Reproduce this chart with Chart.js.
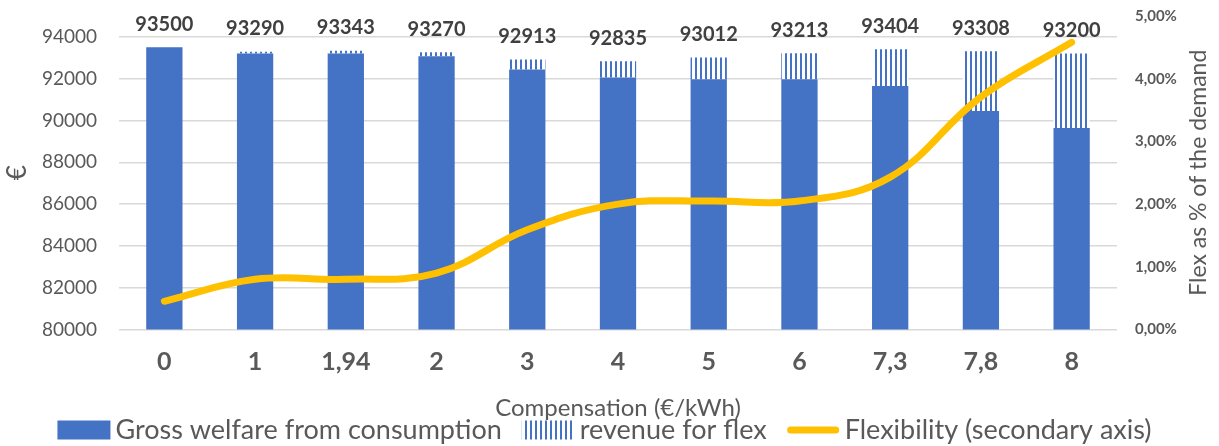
<!DOCTYPE html>
<html>
<head>
<meta charset="utf-8">
<script src="https://cdn.jsdelivr.net/npm/chart.js@4.4.1/dist/chart.umd.min.js"></script>
<style>
  html, body { margin: 0; padding: 0; background: #ffffff; }
  #wrap { width: 1219px; height: 446px; position: relative; }
</style>
</head>
<body>
<div id="wrap"><canvas id="welfareChart"></canvas></div>
<script>
// Compensation levels (€/kWh) shown on the category axis
const categories = ['0', '1', '1,94', '2', '3', '4', '5', '6', '7,3', '7,8', '8'];
// Total welfare printed above each column (€)
const totalWelfare = [93500, 93290, 93343, 93270, 92913, 92835, 93012, 93213, 93404, 93308, 93200];
// Gross welfare from consumption (€), the solid part of each column
const grossWelfare = [93500, 93210, 93200, 93075, 92437, 92054, 91972, 91972, 91651, 90452, 89637];
// Flexibility as % of the demand (secondary axis)
const flexShare = [0.45, 0.80, 0.80, 0.90, 1.59, 2.00, 2.05, 2.05, 2.43, 3.71, 4.58];
// Axis tick values
const leftTicks = [80000, 82000, 84000, 86000, 88000, 90000, 92000, 94000];
const rightTicks = [0, 1, 2, 3, 4, 5];

// Revenue for flex is the striped top part: total minus gross welfare
const revenueForFlex = totalWelfare.map((t, i) => t - grossWelfare[i]);

const BLUE = '#4472C4';
const GOLD = '#FFC000';
const GRID = '#D9D9D9';
const TEXT = '#595959';
const LABEL = '#404040';
const FONT = 'Lato, "Open Sans", sans-serif';

Chart.defaults.font.family = FONT;
Chart.defaults.color = TEXT;

// Vertical blue stripes on white
function makeStripes() {
  const c = document.createElement('canvas');
  c.width = 5; c.height = 4;
  const g = c.getContext('2d');
  g.fillStyle = '#ffffff';
  g.fillRect(0, 0, 5, 4);
  g.fillStyle = BLUE;
  g.fillRect(0, 0, 2, 4);
  return g.createPattern(c, 'repeat');
}
const stripes = makeStripes();

// Fixed scale sizes; no extra edge padding for the outer tick labels
function fixWidth(w) {
  return scale => {
    scale.width = w;
    scale.paddingTop = 0;
    scale.paddingBottom = 0;
  };
}

// Column totals written above each stacked column
const totalLabels = {
  id: 'totalLabels',
  afterDatasetsDraw(chart) {
    const meta = chart.getDatasetMeta(1);
    const ctx = chart.ctx;
    ctx.save();
    ctx.font = 'bold 20px ' + FONT;
    ctx.fillStyle = LABEL;
    ctx.textAlign = 'center';
    ctx.textBaseline = 'middle';
    meta.data.forEach((bar, i) => {
      ctx.fillText(String(totalWelfare[i]), bar.x, bar.y - 23);
    });
    ctx.restore();
  }
};

// Secondary axis title (reads bottom to top) and the legend row
const extras = {
  id: 'extras',
  afterDraw(chart) {
    const ctx = chart.ctx;
    const area = chart.chartArea;

    ctx.save();
    ctx.fillStyle = TEXT;
    ctx.font = '23px ' + FONT;
    ctx.textAlign = 'center';
    ctx.textBaseline = 'middle';
    ctx.translate(1199, (area.top + area.bottom) / 2);
    ctx.rotate(-Math.PI / 2);
    ctx.fillText('Flex as % of the demand', 0, 0);
    ctx.restore();

    // legend
    const items = [
      { text: 'Gross welfare from consumption', kind: 'solid' },
      { text: 'revenue for flex', kind: 'stripes' },
      { text: 'Flexibility (secondary axis)', kind: 'line' }
    ];
    const symW = 53, symH = 19, gap = 5, spacing = 20;
    ctx.save();
    ctx.font = '27px ' + FONT;
    let total = 0;
    items.forEach((it, i) => {
      it.w = ctx.measureText(it.text).width;
      total += symW + gap + it.w + (i ? spacing : 0);
    });
    let x = (chart.width - total) / 2 - 5;
    const cy = 430;
    items.forEach((it, i) => {
      if (i) x += spacing;
      if (it.kind === 'solid') {
        ctx.fillStyle = BLUE;
        ctx.fillRect(x, cy - symH / 2, symW, symH);
      } else if (it.kind === 'stripes') {
        ctx.fillStyle = stripes;
        ctx.fillRect(x, cy - symH / 2, symW, symH);
      } else {
        ctx.strokeStyle = GOLD;
        ctx.lineWidth = 7;
        ctx.lineCap = 'round';
        ctx.beginPath();
        ctx.moveTo(x + 4, cy);
        ctx.lineTo(x + symW - 4, cy);
        ctx.stroke();
      }
      x += symW + gap;
      ctx.fillStyle = TEXT;
      ctx.textAlign = 'left';
      ctx.textBaseline = 'middle';
      ctx.fillText(it.text, x, cy);
      x += it.w;
    });
    ctx.restore();
  }
};

new Chart(document.getElementById('welfareChart'), {
  type: 'bar',
  data: {
    labels: categories,
    datasets: [
      {
        label: 'Gross welfare from consumption',
        data: grossWelfare,
        backgroundColor: BLUE,
        borderWidth: 0,
        yAxisID: 'y',
        order: 1,
        barPercentage: 0.4,
        categoryPercentage: 1
      },
      {
        label: 'revenue for flex',
        data: revenueForFlex,
        backgroundColor: stripes,
        borderWidth: 0,
        yAxisID: 'y',
        order: 1,
        barPercentage: 0.4,
        categoryPercentage: 1
      },
      {
        type: 'line',
        label: 'Flexibility (secondary axis)',
        data: flexShare,
        yAxisID: 'y1',
        borderColor: GOLD,
        backgroundColor: GOLD,
        borderWidth: 7,
        borderCapStyle: 'round',
        borderJoinStyle: 'round',
        pointRadius: 0,
        tension: 0.4,
        fill: false,
        order: 0
      }
    ]
  },
  options: {
    responsive: true,
    maintainAspectRatio: false,
    animation: false,
    layout: { autoPadding: false, padding: { top: 16, left: 0, right: 0, bottom: 0 } },
    plugins: {
      legend: { display: false },
      tooltip: { enabled: false }
    },
    scales: {
      x: {
        stacked: true,
        grid: { display: false, drawTicks: false },
        border: { display: false },
        ticks: {
          color: TEXT,
          font: { size: 25, weight: 'bold' },
          padding: 17,
          maxRotation: 0,
          autoSkip: false
        },
        title: {
          display: true,
          text: 'Compensation (€/kWh)',
          color: TEXT,
          font: { size: 24 },
          padding: { top: 0, bottom: 23 }
        },
        afterFit(scale) {
          scale.height = 116.5;
          scale.paddingLeft = 0;
          scale.paddingRight = 0;
        }
      },
      y: {
        stacked: true,
        position: 'left',
        min: 80000,
        max: 95000,
        afterBuildTicks(scale) { scale.ticks = leftTicks.map(v => ({ value: v })); },
        ticks: { color: TEXT, font: { size: 19 }, padding: 22, callback: v => String(v) },
        grid: { color: GRID, lineWidth: 1.5, drawTicks: false },
        border: { display: false },
        title: {
          display: true,
          text: '€',
          color: TEXT,
          font: { size: 26 },
          padding: { top: 2, bottom: 0 }
        },
        afterFit: fixWidth(119)
      },
      y1: {
        position: 'right',
        min: 0,
        max: 5,
        afterBuildTicks(scale) { scale.ticks = rightTicks.map(v => ({ value: v })); },
        ticks: {
          color: TEXT,
          font: { size: 15, weight: 'bold' },
          padding: 18,
          callback: v => v.toFixed(2).replace('.', ',') + '%'
        },
        grid: { display: false, drawTicks: false },
        border: { display: false },
        afterFit: fixWidth(102)
      }
    }
  },
  plugins: [totalLabels, extras]
});
</script>
</body>
</html>
